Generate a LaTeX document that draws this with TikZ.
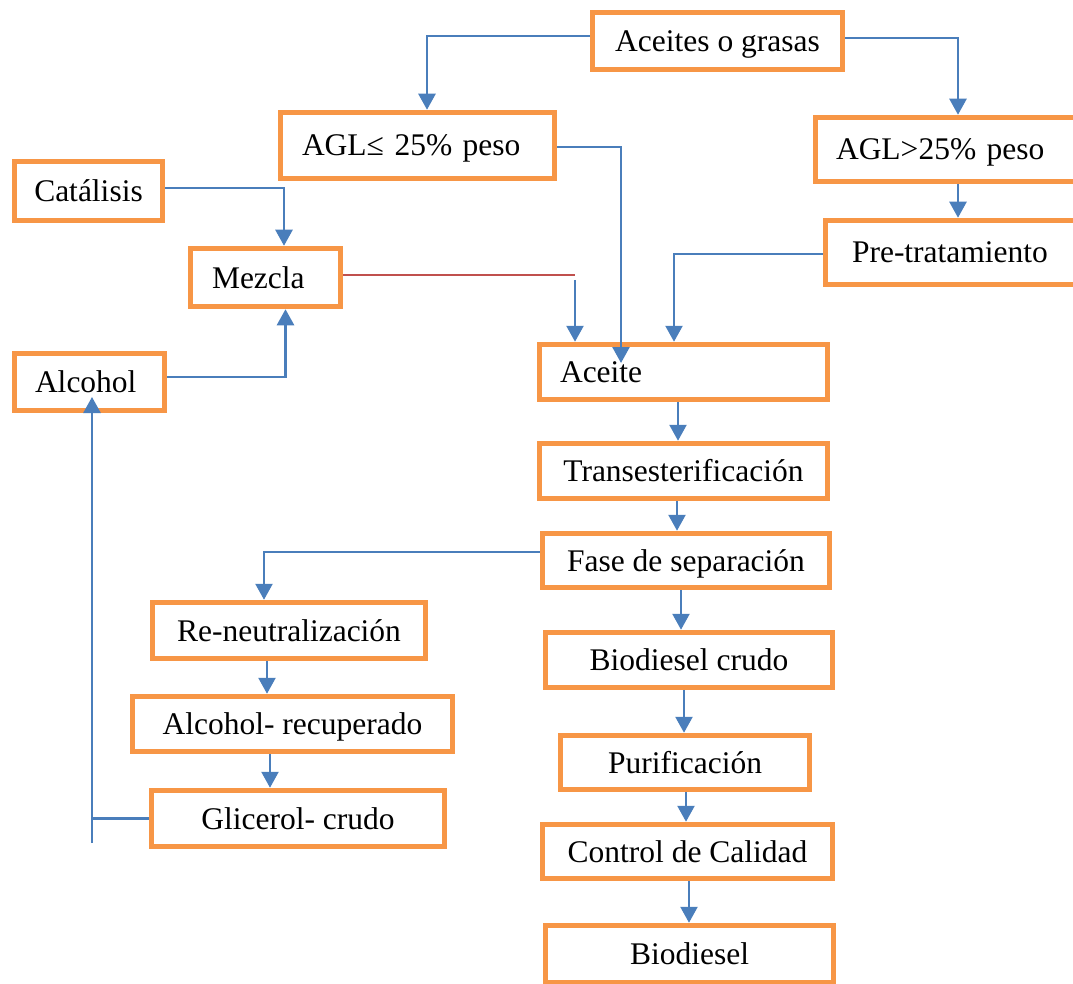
\documentclass[tikz,border=0pt]{standalone}
\usepackage{fontspec}
\setmainfont{Liberation Serif}
\usetikzlibrary{arrows.meta}
\definecolor{boxorange}{HTML}{F79646}
\definecolor{linkblue}{HTML}{4A7EBB}
\definecolor{linkred}{HTML}{C0504D}
\begin{document}
\begin{tikzpicture}[x=1pt,y=-1pt,
  box/.style={draw=boxorange, line width=5.5pt, inner ysep=0pt, inner xsep=0pt,
    text height=21pt, text depth=0pt, font=\fontsize{31.5}{36}\selectfont},
  cbox/.style 2 args={box, minimum width=#1, minimum height=#2, align=center},
  conn/.style={draw=linkblue, line width=2.5pt},
  arr/.style={conn, -{Triangle[width=17pt,length=16pt]}},
  redline/.style={draw=linkred, line width=2pt}]
\useasboundingbox (0,0) rectangle (1073,984);

% boxes
\node[cbox={250pt}{57pt}] (oil) at (717.5,41) {Aceites o grasas};
\node[box, minimum height=66pt, text width=231pt, inner xsep=21.5pt, align=left] (low) at (417.5,145.5) {AGL≤ 25\% peso};
\node[box, minimum height=64pt, text width=231pt, inner xsep=20.5pt, align=left] (high) at (951.5,149.5) {AGL>25\% peso};
\node[box, minimum height=64pt, text width=214pt, inner xsep=26.5pt, align=left] (pre) at (959,252.5) {Pre-tratamiento};
\node[cbox={148pt}{59pt}] (cat) at (88.5,191) {Catálisis};
\node[box, minimum height=58pt, text width=107pt, inner xsep=21.5pt, align=left] (mez) at (265.5,277.5) {Mezcla};
\node[box, minimum height=57pt, text width=109pt, inner xsep=20.5pt, align=left] (alc) at (89.5,382) {Alcohol};
\node[box, minimum height=55pt, text width=247pt, inner xsep=20.5pt, align=left] (ace) at (683.5,372) {Aceite};
\node[cbox={288pt}{55pt}] (tra) at (683.5,471) {Transesterificación};
\node[cbox={287pt}{54pt}] (fase) at (686,560.5) {Fase de separación};
\node[cbox={273pt}{56pt}] (reneu) at (289,630.5) {Re-neutralización};
\node[cbox={287pt}{55pt}] (bcr) at (689,660) {Biodiesel crudo};
\node[cbox={320pt}{55pt}] (arec) at (292.5,724) {Alcohol- recuperado};
\node[cbox={249pt}{54pt}] (pur) at (685,762.5) {Purificación};
\node[cbox={293pt}{56pt}] (gli) at (298,818.5) {Glicerol- crudo};
\node[cbox={290pt}{54pt}] (con) at (687.5,851.5) {Control de Calidad};
\node[cbox={288pt}{57pt}] (bio) at (689.5,954) {Biodiesel};

% helper coordinates
\coordinate (k3) at (621,363);
\coordinate (k6) at (575,275);
\coordinate (k17) at (92,843);
\coordinate (k17b) at (92,397);

% connectors
\draw[arr] ([yshift=5pt]oil.west) -| ([xshift=9.5pt]low.north);
\draw[arr] ([yshift=3pt]oil.east) -| ([xshift=6.5pt]high.north);
\draw[arr] ([yshift=-1.5pt]low.east) -| (k3);
\draw[arr] ([yshift=3pt]cat.east) -| ([xshift=18.5pt]mez.north);
\draw[arr] ([yshift=5pt]alc.east) -| ([xshift=20pt]mez.south);
\draw[redline] ([yshift=2.5pt]mez.east) -- (k6);
\draw[arr] ([yshift=-5pt]k6) -- (k6 |- ace.north);
\draw[arr] ([yshift=-1.5pt]pre.west) -| ([xshift=-9.5pt]ace.north);
\draw[arr] ([xshift=6.5pt]high.south) -- ([xshift=-1pt]pre.north);
\draw[arr] ([xshift=-5.5pt]ace.south) -- ([xshift=-5.5pt]tra.north);
\draw[arr] ([xshift=-6.5pt]tra.south) -- ([xshift=-9pt]fase.north);
\draw[arr] ([yshift=8.5pt]fase.west) -| ([xshift=-25pt]reneu.north);
\draw[arr] ([xshift=-5pt]fase.south) -- ([xshift=-8pt]bcr.north);
\draw[arr] ([xshift=-22pt]reneu.south) -- ([xshift=-25.5pt]arec.north);
\draw[arr] ([xshift=-5pt]bcr.south) -- ([xshift=-1pt]pur.north);
\draw[arr] ([xshift=-22.5pt]arec.south) -- ([xshift=-28pt]gli.north);
\draw[arr] ([xshift=1pt]pur.south) -- ([xshift=-1.5pt]con.north);
\draw[arr] ([xshift=1.5pt]con.south) -- ([xshift=-0.5pt]bio.north);
\draw[conn] (gli.west) -- (gli.west -| k17);
\draw[arr] (k17) -- (k17b);
\end{tikzpicture}
\end{document}
